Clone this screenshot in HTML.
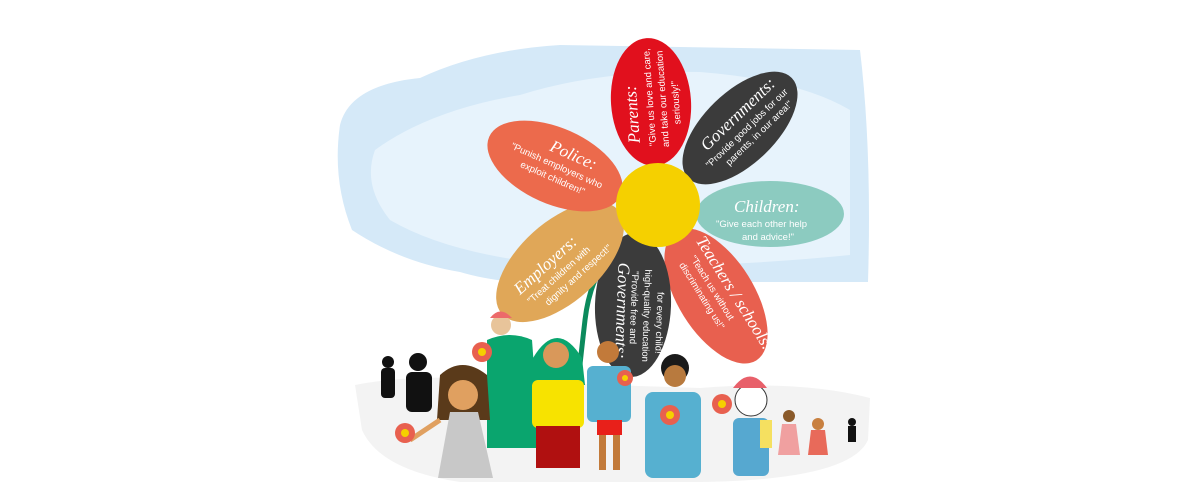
<!DOCTYPE html>
<html><head><meta charset="utf-8"><style>
html,body{margin:0;padding:0;background:#fff;}
svg{display:block;}
.t{font-family:"Liberation Serif",serif;font-style:italic;fill:#fff;}
.s{font-family:"Liberation Sans",sans-serif;fill:#fff;font-size:9.5px;}
</style></head><body>
<svg width="1194" height="495" viewBox="0 0 1194 495" xmlns="http://www.w3.org/2000/svg">
<!-- sky -->
<path d="M340 125 Q350 85 420 78 Q480 50 560 45 L860 50 Q872 150 868 282 L630 282 Q520 290 460 272 Q400 262 352 230 Q332 180 340 125Z" fill="#d5e9f8"/>
<path d="M375 150 Q430 110 520 95 Q600 70 700 72 Q800 80 850 110 L850 255 Q700 270 560 265 Q450 255 390 220 Q362 185 375 150Z" fill="#e7f3fc"/>
<!-- ground -->
<path d="M355 385 Q420 372 520 382 L700 388 Q800 380 870 398 L868 440 Q850 480 700 482 L460 482 Q380 470 362 430 Z" fill="#f3f3f3"/>
<!-- stem -->
<path d="M632 236 Q592 260 585 320 Q578 380 574 425" stroke="#0b8a5c" stroke-width="5" fill="none"/>
<!-- petals -->
<g transform="translate(651,102) rotate(-94)"><ellipse rx="64" ry="40" fill="#e1101d"/>
<text class="t" x="-40" y="-14" font-size="17">Parents:</text>
<text class="s" x="-44" y="2">"Give us love and care,</text>
<text class="s" x="-46" y="15">and take our education</text>
<text class="s" x="-24" y="28">seriously!"</text></g>
<g transform="translate(740,128) rotate(-44)"><ellipse rx="72" ry="36" fill="#3b3b3b"/>
<text class="t" x="-40" y="-6" font-size="17">Governments:</text>
<text class="s" x="-50" y="8">"Provide good jobs for our</text>
<text class="s" x="-34" y="20">parents, in our area!"</text></g>
<g transform="translate(770,214) rotate(0)"><ellipse rx="74" ry="33" fill="#8ccbc0"/>
<text class="t" x="-36" y="-2" font-size="17">Children:</text>
<text class="s" x="-54" y="13">"Give each other help</text>
<text class="s" x="-28" y="26">and advice!"</text></g>
<g transform="translate(716,296) rotate(58)"><ellipse rx="76" ry="38" fill="#e8604f"/>
<text class="t" x="-58" y="-12" font-size="17">Teachers / schools:</text>
<text class="s" x="-46" y="2">"Teach us without</text>
<text class="s" x="-46" y="15">discriminating us!"</text></g>
<g transform="translate(633,305) rotate(92)"><ellipse rx="72" ry="38" fill="#3b3b3b"/>
<text class="t" x="-42" y="16" font-size="17">Governments:</text>
<text class="s" x="-34" y="2">"Provide free and</text>
<text class="s" x="-36" y="-11">high-quality education</text>
<text class="s" x="-14" y="-24">for every child!"</text></g>
<g transform="translate(560,262) rotate(-42)"><ellipse rx="78" ry="40" fill="#e0a758"/>
<text class="t" x="-52" y="-2" font-size="17">Employers:</text>
<text class="s" x="-50" y="12">"Treat children with</text>
<text class="s" x="-38" y="25">dignity and respect!"</text></g>
<g transform="translate(555,166) rotate(24)"><ellipse rx="72" ry="38" fill="#ec6a4c"/>
<text class="t" x="-12" y="-12" font-size="17">Police:</text>
<text class="s" x="-48" y="2">"Punish employers who</text>
<text class="s" x="-32" y="15">exploit children!"</text></g>
<circle cx="658" cy="205" r="42" fill="#f5d000"/>
<!-- figures -->
<g fill="#111">
<circle cx="388" cy="362" r="6"/><rect x="381" y="368" width="14" height="30" rx="4"/>
<circle cx="418" cy="362" r="9"/><rect x="406" y="372" width="26" height="40" rx="6"/>
<circle cx="852" cy="422" r="4"/><rect x="848" y="426" width="8" height="16"/>
</g>
<circle cx="501" cy="325" r="10" fill="#e8c49a"/><path d="M490 318 Q500 305 512 318" fill="#ec6a6a"/>
<path d="M487 340 Q510 330 532 340 L540 448 L487 448Z" fill="#0aa56e"/>
<path d="M440 375 Q462 355 487 375 L490 420 L437 420Z" fill="#5a3a1a"/>
<circle cx="463" cy="395" r="15" fill="#e0a060"/>
<path d="M450 412 L478 412 L493 478 L438 478Z" fill="#c8c8c8"/>
<path d="M440 420 L410 440" stroke="#e0a060" stroke-width="5"/>
<path d="M533 358 Q557 318 582 358 L585 385 L530 385Z" fill="#0aa56e"/>
<circle cx="556" cy="355" r="13" fill="#d9985a"/>
<rect x="532" y="380" width="52" height="48" rx="6" fill="#f7e300"/>
<rect x="536" y="426" width="44" height="42" fill="#b01010"/>
<circle cx="608" cy="352" r="11" fill="#c27a3a"/>
<rect x="587" y="366" width="44" height="56" rx="6" fill="#56b0d0"/>
<rect x="597" y="420" width="25" height="15" fill="#e8201a"/>
<rect x="599" y="435" width="7" height="35" fill="#c27a3a"/><rect x="613" y="435" width="7" height="35" fill="#c27a3a"/>
<circle cx="675" cy="368" r="14" fill="#1a1a1a"/><circle cx="675" cy="376" r="11" fill="#b87a3e"/>
<rect x="645" y="392" width="56" height="86" rx="8" fill="#56b0d0"/>
<circle cx="751" cy="400" r="16" fill="#fff" stroke="#333"/>
<path d="M733 388 Q750 365 767 388Z" fill="#e8606a"/>
<rect x="733" y="418" width="36" height="58" rx="6" fill="#56a8d0"/>
<rect x="760" y="420" width="12" height="28" fill="#f5e060"/>
<circle cx="789" cy="416" r="6" fill="#8a5a2a"/><path d="M782 424 L796 424 L800 455 L778 455Z" fill="#f0a0a0"/>
<circle cx="818" cy="424" r="6" fill="#c88040"/><path d="M811 430 L825 430 L828 455 L808 455Z" fill="#e86a5a"/>
<g><circle cx="405" cy="433" r="10" fill="#e8604f"/><circle cx="405" cy="433" r="4" fill="#f5d000"/></g>
<g><circle cx="482" cy="352" r="10" fill="#e8604f"/><circle cx="482" cy="352" r="4" fill="#f5d000"/></g>
<g><circle cx="625" cy="378" r="8" fill="#e8604f"/><circle cx="625" cy="378" r="3" fill="#f5d000"/></g>
<g><circle cx="670" cy="415" r="10" fill="#e8604f"/><circle cx="670" cy="415" r="4" fill="#f5d000"/></g>
<g><circle cx="722" cy="404" r="10" fill="#e8604f"/><circle cx="722" cy="404" r="4" fill="#f5d000"/></g>
</svg>
</body></html>
